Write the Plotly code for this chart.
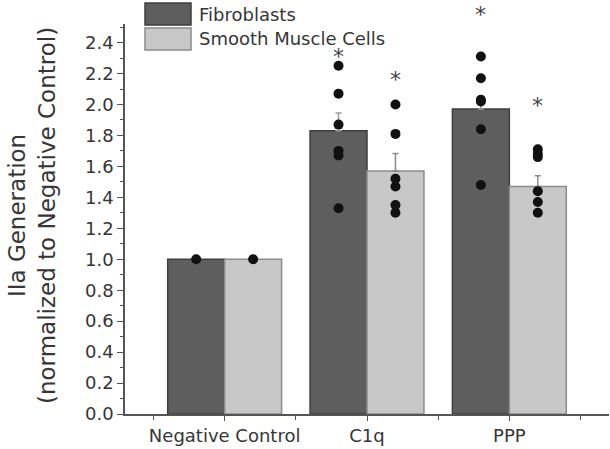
import plotly.graph_objects as go

categories = ["Negative Control", "C1q", "PPP"]
cat_pos = [0, 1, 2]
fib_means = [1.0, 1.83, 1.97]
smc_means = [1.0, 1.57, 1.47]
fib_err = [0.0, 0.115, 0.05]
smc_err = [0.0, 0.113, 0.07]
fib_points = [[1.0], [2.25, 2.07, 1.87, 1.70, 1.67, 1.33], [2.31, 2.17, 2.03, 2.02, 1.84, 1.48]]
smc_points = [[1.0], [2.00, 1.81, 1.52, 1.47, 1.35, 1.30], [1.71, 1.68, 1.66, 1.44, 1.37, 1.30]]
fib_star = [None, 2.33, 2.60]
smc_star = [None, 2.18, 2.01]
yticks = [0.0, 0.2, 0.4, 0.6, 0.8, 1.0, 1.2, 1.4, 1.6, 1.8, 2.0, 2.2, 2.4]
Y_RANGE = [0, 2.52]
X_RANGE = [-0.7, 2.7]

BW = 0.4
FIB_FILL, FIB_LINE = "#5e5e5e", "#3e3e3e"
SMC_FILL, SMC_LINE = "#c8c8c8", "#8c8c8c"
TXT = "#363636"
FONT = "DejaVu Sans, Arial"

fig = go.Figure()
fig.add_bar(x=[p - BW / 2 for p in cat_pos], y=fib_means, width=BW, name="Fibroblasts",
            marker=dict(color=FIB_FILL, line=dict(color=FIB_LINE, width=1.5)),
            error_y=dict(type="data", array=fib_err, arrayminus=[0] * 3, color="#9a9a9a", thickness=1.5, width=3))
fig.add_bar(x=[p + BW / 2 for p in cat_pos], y=smc_means, width=BW, name="Smooth Muscle Cells",
            marker=dict(color=SMC_FILL, line=dict(color=SMC_LINE, width=1.5)),
            error_y=dict(type="data", array=smc_err, arrayminus=[0] * 3, color="#8a8a8a", thickness=1.5, width=3))

for pts_list, off in ((fib_points, -BW / 2), (smc_points, BW / 2)):
    xs, ys = [], []
    for p, pts in zip(cat_pos, pts_list):
        xs += [p + off] * len(pts)
        ys += pts
    fig.add_scatter(x=xs, y=ys, mode="markers", marker=dict(color="#111111", size=10),
                    showlegend=False, cliponaxis=False)

L, R, T, B = 125, 1, 24, 35
W, H = 610, 449
pw, ph = W - L - R, H - T - B

def px_x(x):
    return (x - L) / pw

def px_y(y):
    return (H - B - y) / ph

shapes = []
annotations = []

# significance asterisks: placed in axis-domain units so the one above the axis top still shows
for stars, off in ((fib_star, -BW / 2), (smc_star, BW / 2)):
    for p, s in zip(cat_pos, stars):
        if s is None:
            continue
        annotations.append(dict(xref="x", yref="y domain", x=p + off,
                                y=(s - Y_RANGE[0]) / (Y_RANGE[1] - Y_RANGE[0]),
                                text="*", showarrow=False, xanchor="center", yanchor="middle", yshift=-3,
                                font=dict(size=22, color="#444444", family=FONT)))

legend_items = [("Fibroblasts", FIB_FILL, FIB_LINE, 3, 25), ("Smooth Muscle Cells", SMC_FILL, SMC_LINE, 28, 50)]
for name, fill, line, y0, y1 in legend_items:
    shapes.append(dict(type="rect", xref="paper", yref="paper", x0=px_x(145), x1=px_x(191),
                       y0=px_y(y1), y1=px_y(y0), fillcolor=fill, line=dict(color=line, width=1.5), layer="above"))
    annotations.append(dict(xref="paper", yref="paper", x=px_x(197), y=px_y((y0 + y1) / 2), text=name,
                            showarrow=False, xanchor="left", yanchor="middle",
                            font=dict(size=18, color=TXT, family=FONT)))

annotations.append(dict(xref="paper", yref="paper", x=px_x(32), y=px_y(216),
                        text="IIa Generation<br>(normalized to Negative Control)", textangle=-90,
                        showarrow=False, xanchor="center", yanchor="middle",
                        font=dict(size=23, color=TXT, family=FONT)))

fig.update_layout(
    width=W, height=H, margin=dict(l=L, r=R, t=T, b=B),
    paper_bgcolor="white", plot_bgcolor="white",
    showlegend=False, barmode="overlay",
    font=dict(family=FONT, color=TXT, size=18),
    shapes=shapes, annotations=annotations,
)
fig.update_xaxes(range=X_RANGE, tickmode="array", tickvals=cat_pos, ticktext=categories,
                 showline=True, linecolor="#555555", linewidth=1.5, ticks="outside", ticklen=5,
                 tickcolor="#555555", showgrid=False, zeroline=False,
                 minor=dict(tick0=-0.5, dtick=1, ticks="outside", ticklen=4, tickcolor="#555555", showgrid=False),
                 tickfont=dict(size=18, color=TXT, family=FONT))
fig.update_yaxes(range=Y_RANGE, tickmode="array", tickvals=yticks, ticktext=[f"{v:.1f}" for v in yticks],
                 showline=True, linecolor="#555555", linewidth=1.5, ticks="outside", ticklen=6,
                 tickcolor="#555555", showgrid=False, zeroline=False,
                 minor=dict(tick0=0.1, dtick=0.2, ticks="outside", ticklen=3, tickcolor="#555555", showgrid=False),
                 tickfont=dict(size=18, color=TXT, family=FONT))

fig.write_html("out.html")
